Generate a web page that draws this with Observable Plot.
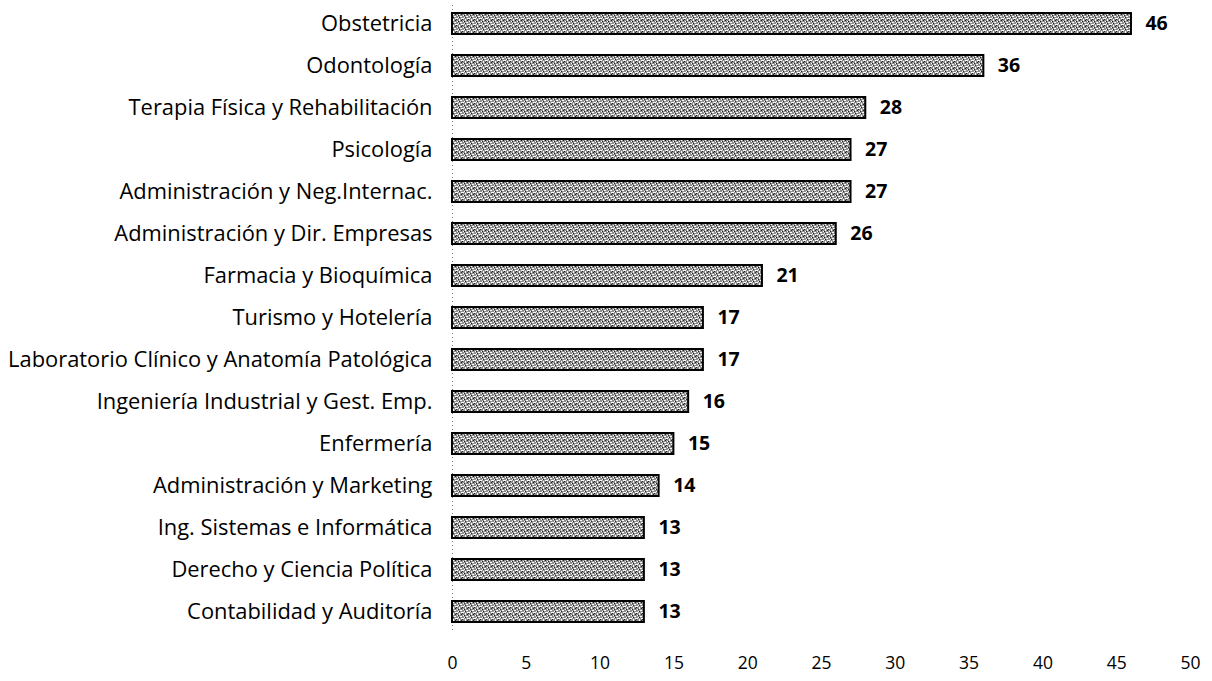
<!DOCTYPE html>
<html><head><meta charset="utf-8">
<script src="https://cdn.jsdelivr.net/npm/d3@7"></script>
<script src="https://cdn.jsdelivr.net/npm/@observablehq/plot@0.6"></script>
<style>body{margin:0;background:#fff}</style>
</head><body><div id="chart"></div>
<script>
const carreras = ["Obstetricia","Odontología","Terapia Física y Rehabilitación","Psicología","Administración y Neg.Internac.","Administración y Dir. Empresas","Farmacia y Bioquímica","Turismo y Hotelería","Laboratorio Clínico y Anatomía Patológica","Ingeniería Industrial y Gest. Emp.","Enfermería","Administración y Marketing","Ing. Sistemas e Informática","Derecho y Ciencia Política","Contabilidad y Auditoría"];
const valores = [46,36,28,27,27,26,21,17,17,16,15,14,13,13,13];
const ticks = [0,5,10,15,20,25,30,35,40,45,50];
const data = carreras.map((c,i)=>({carrera:c, valor:valores[i]}));

const chart = Plot.plot({
  width:1212, height:681,
  marginLeft:452, marginRight:22, marginTop:5, marginBottom:51,
  style:{fontFamily:"'Open Sans', sans-serif", fontSize:"16.5px", color:"#000", background:"#fff"},
  x:{domain:[0,50], ticks:ticks, label:null},
  y:{domain:carreras, paddingInner:0.5, paddingOuter:0.1, label:null},
  marks:[
    Plot.ruleX([0],{stroke:"#777", strokeDasharray:"1,3", strokeWidth:1}),
    Plot.barX(data,{y:"carrera", x:"valor", fill:"url(#tex)", stroke:"#000", strokeWidth:2}),
    Plot.text(data,{y:"carrera", x:"valor", text:d=>String(d.valor), textAnchor:"start", dx:14, fontWeight:"bold", fontSize:19.5}),
    Plot.axisY({tickSize:0, tickPadding:20, label:null, fontSize:21.9}),
    Plot.axisX({ticks:ticks, tickSize:0, tickPadding:26, label:null, fontSize:17.5})
  ]
});
const svgNS="http://www.w3.org/2000/svg";
const defs=document.createElementNS(svgNS,"defs");
defs.innerHTML=`<pattern id="tex" width="6" height="6" patternUnits="userSpaceOnUse">
<rect width="6" height="6" fill="#8f8f8f"/>
<rect x="0" y="0" width="2" height="1" fill="#fff"/>
<rect x="3" y="1" width="1" height="2" fill="#fff"/>
<rect x="5" y="0" width="1" height="1" fill="#fff"/>
<rect x="1" y="3" width="1" height="1" fill="#fff"/>
<rect x="4" y="4" width="2" height="1" fill="#fff"/>
<rect x="2" y="5" width="1" height="1" fill="#fff"/>
<rect x="0" y="1" width="1" height="1" fill="#222"/>
<rect x="2" y="3" width="1" height="1" fill="#222"/>
<rect x="5" y="2" width="1" height="1" fill="#222"/>
<rect x="3" y="5" width="1" height="1" fill="#222"/>
</pattern>`;
chart.insertBefore(defs, chart.firstChild);
document.getElementById("chart").appendChild(chart);
</script>
</body></html>
